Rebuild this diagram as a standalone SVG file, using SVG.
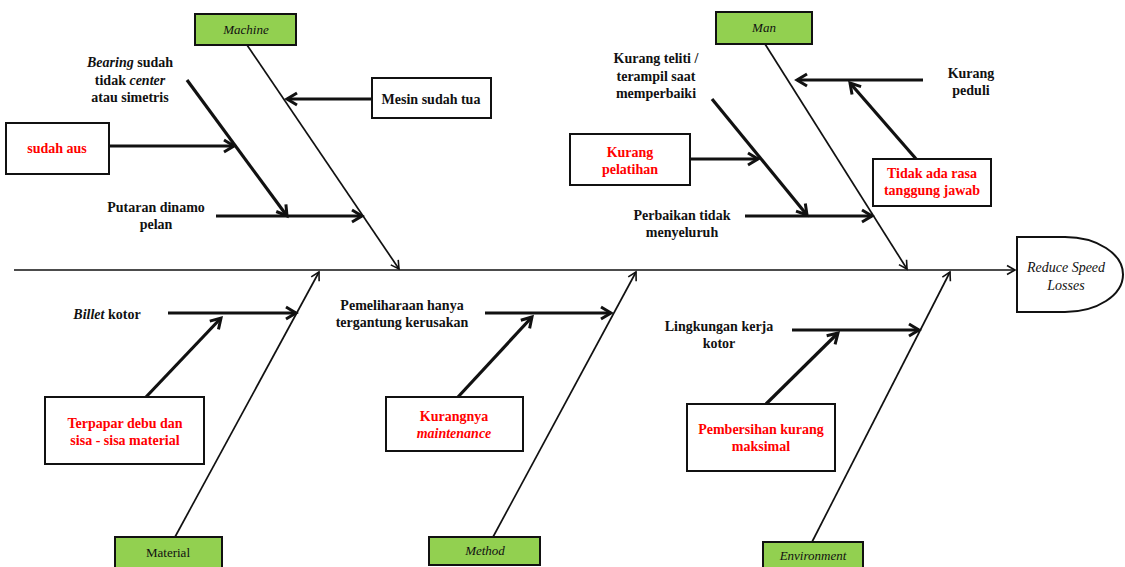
<svg xmlns="http://www.w3.org/2000/svg" width="1125" height="567" viewBox="0 0 1125 567">
<defs>
<style>
.t{font-family:"Liberation Serif","Times New Roman",serif;font-weight:bold;font-size:14px;fill:#111;text-anchor:middle}
.r{fill:#ff0000}
.i{font-style:italic}
.cat{font-family:"Liberation Serif","Times New Roman",serif;font-size:13px;fill:#111;text-anchor:middle}
.big{font-size:14px}
.gbox{fill:#92d050;stroke:#111;stroke-width:2}
.wbox{fill:#fff;stroke:#111;stroke-width:2}
.bone{stroke:#111;stroke-width:1.7;fill:none;marker-end:url(#thin)}
.thick{stroke:#111;stroke-width:3.2;fill:none;marker-end:url(#fat)}
</style>
<marker id="thin" viewBox="0 0 12 12" refX="10" refY="6" markerWidth="12" markerHeight="12" markerUnits="userSpaceOnUse" orient="auto">
<path d="M2,1.5 L10,6 L2,10.5" fill="none" stroke="#111" stroke-width="1.6"/>
</marker>
<marker id="fat" viewBox="0 0 16 16" refX="13" refY="8" markerWidth="16" markerHeight="16" markerUnits="userSpaceOnUse" orient="auto">
<path d="M3,2 L13,8 L3,14" fill="none" stroke="#111" stroke-width="3"/>
</marker>
</defs>
<rect width="1125" height="567" fill="#fff"/>
<g id="connectors">
<line x1="14" y1="270" x2="1015" y2="270" class="bone" stroke-width="2"/>
<line x1="247" y1="45" x2="399" y2="269" class="bone"/>
<line x1="765" y1="44" x2="907" y2="269" class="bone"/>
<line x1="175" y1="537" x2="319" y2="272" class="bone"/>
<line x1="493" y1="537" x2="636" y2="272" class="bone"/>
<line x1="812" y1="542" x2="950" y2="272" class="bone"/>
<line x1="372" y1="99" x2="287" y2="99" class="thick"/>
<line x1="109" y1="146" x2="234" y2="146" class="thick"/>
<line x1="187" y1="80" x2="287" y2="216" class="thick"/>
<line x1="216" y1="216" x2="362" y2="216" class="thick"/>
<line x1="923" y1="80" x2="797" y2="80" class="thick"/>
<line x1="917" y1="160" x2="850" y2="83" class="thick"/>
<line x1="712" y1="99" x2="807" y2="215" class="thick"/>
<line x1="690" y1="159" x2="758" y2="159" class="thick"/>
<line x1="745" y1="216" x2="872" y2="216" class="thick"/>
<line x1="168" y1="313" x2="296" y2="313" class="thick"/>
<line x1="146" y1="397" x2="221" y2="318" class="thick"/>
<line x1="485" y1="313" x2="611" y2="313" class="thick"/>
<line x1="458" y1="397" x2="532" y2="317" class="thick"/>
<line x1="792" y1="330" x2="919" y2="330" class="thick"/>
<line x1="766" y1="404" x2="838" y2="333" class="thick"/>
</g>
<g id="effect">
<path d="M1017,237 H1065 A58,37.5 0 0 1 1065,312 H1017 Z" class="wbox" stroke-width="1.6"/>
<text class="cat i big" x="1066" y="272">Reduce Speed</text>
<text class="cat i big" x="1066" y="290">Losses</text>
</g>
<g id="machine">
<rect x="195" y="14" width="101" height="31" class="gbox"/>
<text class="cat i" x="246" y="34">Machine</text>
</g>
<g id="man">
<rect x="716" y="12" width="96" height="32" class="gbox"/>
<text class="cat i" x="764" y="32">Man</text>
</g>
<g id="material">
<rect x="115" y="537" width="107" height="34" class="gbox"/>
<text class="cat" x="168" y="557">Material</text>
</g>
<g id="method">
<rect x="429" y="537" width="111" height="28" class="gbox"/>
<text class="cat i" x="485" y="555">Method</text>
</g>
<g id="environment">
<rect x="763" y="542" width="100" height="30" class="gbox"/>
<text class="cat i" x="813" y="560">Environment</text>
</g>
<g id="bearing">
<text class="t" x="130" y="67"><tspan class="i">Bearing</tspan> sudah</text>
<text class="t" x="130" y="85">tidak <tspan class="i">center</tspan></text>
<text class="t" x="130" y="102">atau simetris</text>
</g>
<g id="sudah-aus">
<rect x="6" y="123" width="103" height="51" class="wbox"/>
<text class="t r" x="57" y="153">sudah aus</text>
</g>
<g id="mesin-tua">
<rect x="372" y="78" width="119" height="40" class="wbox"/>
<text class="t" x="431" y="104">Mesin sudah tua</text>
</g>
<g id="putaran">
<text class="t" x="156" y="212">Putaran dinamo</text>
<text class="t" x="156" y="229">pelan</text>
</g>
<g id="kurang-teliti">
<text class="t" x="656" y="63">Kurang teliti /</text>
<text class="t" x="656" y="81">terampil saat</text>
<text class="t" x="656" y="98">memperbaiki</text>
</g>
<g id="kurang-peduli">
<text class="t" x="971" y="78">Kurang</text>
<text class="t" x="971" y="95">peduli</text>
</g>
<g id="kurang-pelatihan">
<rect x="570" y="134" width="120" height="51" class="wbox"/>
<text class="t r" x="630" y="157">Kurang</text>
<text class="t r" x="630" y="174">pelatihan</text>
</g>
<g id="tidak-ada-rasa">
<rect x="873" y="159" width="118" height="47" class="wbox"/>
<text class="t r" x="932" y="178">Tidak ada rasa</text>
<text class="t r" x="932" y="195">tanggung jawab</text>
</g>
<g id="perbaikan">
<text class="t" x="682" y="220">Perbaikan tidak</text>
<text class="t" x="682" y="237">menyeluruh</text>
</g>
<g id="billet">
<text class="t" x="107" y="319"><tspan class="i">Billet</tspan> kotor</text>
</g>
<g id="terpapar">
<rect x="45" y="397" width="159" height="67" class="wbox"/>
<text class="t r" x="125" y="428">Terpapar debu dan</text>
<text class="t r" x="125" y="445">sisa - sisa material</text>
</g>
<g id="pemeliharaan">
<text class="t" x="402" y="310">Pemeliharaan hanya</text>
<text class="t" x="402" y="327">tergantung kerusakan</text>
</g>
<g id="kurangnya">
<rect x="386" y="397" width="137" height="54" class="wbox"/>
<text class="t r" x="454" y="421">Kurangnya</text>
<text class="t r i" x="454" y="438">maintenance</text>
</g>
<g id="lingkungan">
<text class="t" x="719" y="331">Lingkungan kerja</text>
<text class="t" x="719" y="348">kotor</text>
</g>
<g id="pembersihan">
<rect x="687" y="404" width="148" height="67" class="wbox"/>
<text class="t r" x="761" y="434">Pembersihan kurang</text>
<text class="t r" x="761" y="451">maksimal</text>
</g>
</svg>
